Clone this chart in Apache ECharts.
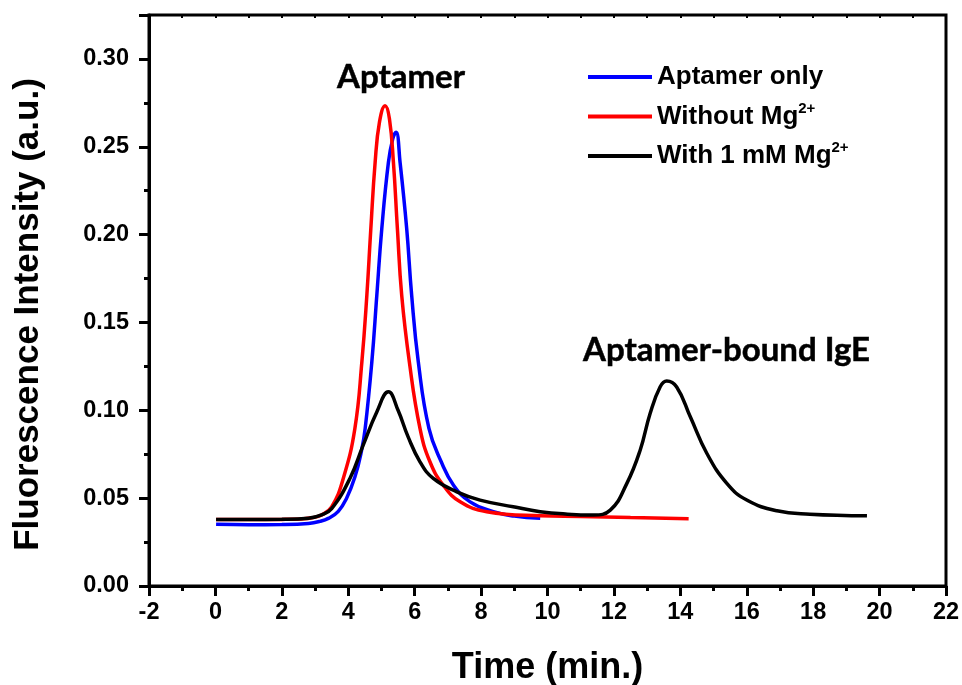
<!DOCTYPE html>
<html lang="en">

<head>
    <meta charset="UTF-8">
    <title>Fluorescence vs Time</title>
    <style>
        html, body { margin: 0; padding: 0; background: #fff; }
        #chart { width: 962px; height: 685px; }
    </style>
</head>

<body>
    <div id="chart"></div>

    <script src="https://cdn.jsdelivr.net/npm/echarts@6/dist/echarts.min.js"></script>
    <script>
        // [time (min.), intensity (a.u.)]
        const aptamerOnly = [
            [0.02, 0.0351], [1, 0.0349], [2, 0.0350], [2.8, 0.0356], [3.15, 0.0368], [3.4, 0.0385],
            [3.7, 0.0425], [3.95, 0.0500], [4.2, 0.0620], [4.4, 0.0770], [4.51, 0.0897],
            [4.71, 0.1275], [4.86, 0.1654], [5.01, 0.2034], [5.21, 0.2412], [5.34, 0.2545],
            [5.44, 0.2583], [5.56, 0.2412], [5.76, 0.2034], [5.91, 0.1654], [6.11, 0.1275],
            [6.43, 0.0897], [6.8, 0.0707], [7.17, 0.0574], [7.67, 0.0479], [8.37, 0.0423],
            [9.0, 0.0398], [9.78, 0.0385]
        ]
        const withoutMg = [
            [0.02, 0.0379], [1, 0.0378], [2, 0.0379], [2.6, 0.0382], [2.9, 0.0388], [3.2, 0.0405],
            [3.5, 0.0450], [3.85, 0.0612], [4.2, 0.0897], [4.41, 0.1275], [4.56, 0.1654],
            [4.68, 0.2034], [4.81, 0.2412], [4.94, 0.2640], [5.11, 0.2734], [5.24, 0.2660],
            [5.36, 0.2412], [5.48, 0.2034], [5.61, 0.1654], [5.84, 0.1275], [6.16, 0.0897],
            [6.46, 0.0707], [6.86, 0.0574], [7.37, 0.0479], [8.17, 0.0423], [9.78, 0.0400],
            [11, 0.0396], [12.5, 0.0390], [14.25, 0.0383]
        ]
        const withMg = [
            [0.02, 0.0379], [1, 0.0379], [2, 0.0380], [2.8, 0.0386], [3.2, 0.0405], [3.5, 0.0440],
            [4.05, 0.0612], [4.45, 0.0802], [4.86, 0.0991], [5.21, 0.1105], [5.5, 0.1000],
            [5.8, 0.0850], [6.16, 0.0707], [6.56, 0.0612], [7.27, 0.0536], [7.97, 0.0489],
            [8.97, 0.0451], [9.78, 0.0423], [10.6, 0.0409], [11.38, 0.0404], [11.89, 0.0432],
            [12.39, 0.0584], [12.79, 0.0773], [13.09, 0.0982], [13.39, 0.1133], [13.59, 0.1167],
            [13.89, 0.1133], [14.3, 0.0963], [14.8, 0.0754], [15.4, 0.0584], [16.0, 0.0489],
            [16.91, 0.0428], [17.9, 0.0409], [19.62, 0.0400]
        ]

        const seriesNames = ['Aptamer only', 'Without Mg', 'With 1 mM Mg']
        const legendSup = ['', '2+', '2+']
        const seriesColors = ['#0000ff', '#ff0000', '#000000']

        // peak annotations: [time, intensity, text]
        const annotations = [
            [5.59, 0.2894, 'Aptamer'],
            [15.39, 0.1342, 'Aptamer-bound IgE']
        ]

        const axisFont = 'Liberation Sans, Arial, sans-serif'

        const chart = echarts.init(document.getElementById('chart'))

        const lineSeries = [aptamerOnly, withoutMg, withMg].map((d, i) => ({
            name: seriesNames[i],
            type: 'line',
            data: d,
            smooth: 0.45,
            showSymbol: false,
            symbol: 'none',
            lineStyle: { color: seriesColors[i], width: 3.5 },
            itemStyle: { color: seriesColors[i] },
            z: 2 + i
        }))

        const option = {
            animation: false,
            grid: {
                left: 149, right: 16, top: 15, bottom: 99,
                outerBoundsMode: 'none',
                show: true, borderColor: '#000', borderWidth: 3
            },
            legend: {
                orient: 'vertical',
                left: 583,
                top: 59,
                itemGap: 11,
                itemWidth: 64,
                itemHeight: 4,
                icon: 'rect',
                data: seriesNames,
                formatter: function (name) {
                    const sup = legendSup[seriesNames.indexOf(name)]
                    return sup ? '{n|' + name + '}{s|' + sup + '}' : '{n|' + name + '}'
                },
                textStyle: {
                    fontFamily: axisFont,
                    fontWeight: 'bold',
                    fontSize: 26,
                    color: '#000',
                    rich: {
                        n: { fontFamily: axisFont, fontWeight: 'bold', fontSize: 26, lineHeight: 31, color: '#000' },
                        s: { fontFamily: axisFont, fontWeight: 'bold', fontSize: 15, lineHeight: 31, verticalAlign: 'top', color: '#000' }
                    }
                }
            },
            xAxis: [{
                type: 'value',
                min: -2,
                max: 22,
                interval: 2,
                name: 'Time (min.)',
                nameLocation: 'middle',
                nameGap: 64,
                nameTextStyle: { fontFamily: axisFont, fontWeight: 'bold', fontSize: 36, color: '#000' },
                axisLine: { show: true, onZero: false, lineStyle: { color: '#000', width: 3 } },
                axisTick: { show: true, inside: false, length: 10, lineStyle: { color: '#000', width: 3 } },
                minorTick: { show: true, splitNumber: 2, length: 5, lineStyle: { color: '#000', width: 3 } },
                axisLabel: { margin: 15, fontFamily: axisFont, fontWeight: 'bold', fontSize: 23.5, color: '#000' },
                splitLine: { show: false }
            }, {
                type: 'value',
                position: 'top',
                min: -2,
                max: 22,
                interval: 1,
                axisLine: { show: false, onZero: false },
                axisTick: { show: true, inside: true, length: 3, lineStyle: { color: '#000', width: 2 } },
                axisLabel: { show: false },
                splitLine: { show: false }
            }],
            yAxis: {
                type: 'value',
                min: 0,
                max: 0.325,
                interval: 0.05,
                name: 'Fluorescence Intensity (a.u.)',
                nameLocation: 'middle',
                nameGap: 103,
                nameTextStyle: {
                    fontFamily: axisFont, fontWeight: 'bold', fontSize: 35, color: '#000',
                    padding: [0, 28, 0, 0]
                },
                axisLine: { show: true, onZero: false, lineStyle: { color: '#000', width: 3 } },
                axisTick: { show: true, inside: false, length: 10, lineStyle: { color: '#000', width: 3 } },
                minorTick: { show: true, splitNumber: 2, length: 5, lineStyle: { color: '#000', width: 3 } },
                axisLabel: {
                    margin: 20, fontFamily: axisFont, fontWeight: 'bold', fontSize: 23.5, color: '#000',
                    showMaxLabel: false,
                    formatter: v => v.toFixed(2)
                },
                splitLine: { show: false }
            },
            series: lineSeries.concat([{
                name: 'annotations',
                type: 'scatter',
                data: annotations,
                symbolSize: 0,
                silent: true,
                itemStyle: { opacity: 1 },
                label: {
                    show: true,
                    position: 'inside',
                    formatter: p => p.value[2],
                    fontFamily: 'Lato, sans-serif',
                    fontWeight: 'bold',
                    fontSize: 33,
                    color: '#000',
                    textBorderColor: '#000',
                    textBorderWidth: 0.5
                },
                z: 10
            }])
        }

        chart.setOption(option)
    </script>
</body>

</html>
